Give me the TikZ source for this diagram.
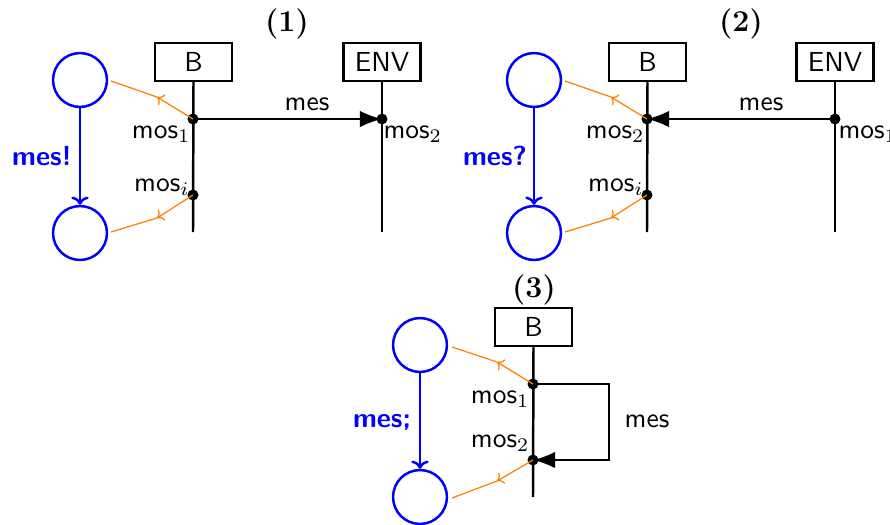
\documentclass[tikz,border=0pt]{standalone}
\usetikzlibrary{arrows.meta}
\begin{document}
\begin{tikzpicture}[x=0.3636pt,y=-0.3636pt, font=\sffamily,
  box/.style={draw, line width=0.9pt, minimum width=28pt, minimum height=13.8pt, inner sep=2pt},
  state/.style={draw=blue, circle, line width=0.9pt, minimum size=19.6pt, inner sep=0pt},
  ev/.style={circle, fill, inner sep=0pt, minimum size=4pt},
  life/.style={line width=0.9pt},
  msg/.style={line width=0.9pt, -{Latex[length=8pt,width=6pt]}},
  trans/.style={blue, line width=0.9pt, -{To[length=3pt]}},
  link/.style={orange, line width=0.45pt},
  linkarr/.style={orange, line width=0.45pt, -{To[length=2.2pt]}},
  lbl/.style={inner sep=0pt},
  ttl/.style={font=\fontsize{11}{13}\selectfont\rmfamily\bfseries, inner sep=0pt},
  act/.style={font=\sffamily\bfseries, text=blue, inner sep=0pt}
]
\useasboundingbox (0,0) rectangle (890,524);

% ---------- Panel 1 ----------
\node[ttl, anchor=base] (t1) at (287,31) {(1)};
\node[box] (B1) at (193.5,62) {B};
\node[box] (E1) at (382,62) {ENV};
\coordinate (B1e) at (193,232);
\coordinate (E1e) at (382,232);
\draw[life] (B1.south) -- (B1e);
\draw[life] (E1.south) -- (E1e);
\node[ev] (m11) at (193,119) {};
\node[ev] (m1i) at (193,195) {};
\node[ev] (m12) at (382,119) {};
\draw[msg] (m11.center) -- (m12.center);
\node[lbl, anchor=base] (mes1) at (307,110) {mes};
\node[lbl, anchor=base east] (l11) at (191,138) {mos$_1$};
\node[lbl, anchor=base east] (l1i) at (190,191) {mos$_i$};
\node[lbl, anchor=base west] (l12) at (383,138) {mos$_2$};
\node[state] (s11) at (80,80) {};
\node[state] (s12) at (80,233) {};
\draw[trans] (s11) -- (s12);
\node[act, anchor=base] (a1) at (42,165) {mes!};
\coordinate (k11) at (157,97);
\coordinate (e11) at (111,81);
\coordinate (k12) at (157,218);
\coordinate (e12) at (111,232);
\draw[linkarr] (m11.center) -- (k11);
\draw[link] (k11) -- (e11);
\draw[linkarr] (m1i.center) -- (k12);
\draw[link] (k12) -- (e12);

% ---------- Panel 2 ----------
\node[ttl, anchor=base] (t2) at (741,31) {(2)};
\node[box] (B2) at (647.5,62) {B};
\node[box] (E2) at (835,62) {ENV};
\coordinate (B2e) at (647,232);
\coordinate (E2e) at (835,232);
\draw[life] (B2.south) -- (B2e);
\draw[life] (E2.south) -- (E2e);
\node[ev] (m22) at (647,119) {};
\node[ev] (m2i) at (647,195) {};
\node[ev] (m21) at (835,119) {};
\draw[msg] (m21.center) -- (m22.center);
\node[lbl, anchor=base] (mes2) at (761,110) {mes};
\node[lbl, anchor=base east] (l22) at (645,138) {mos$_2$};
\node[lbl, anchor=base east] (l2i) at (644,191) {mos$_i$};
\node[lbl, anchor=base west] (l21) at (838,138) {mos$_1$};
\node[state] (s21) at (534,80) {};
\node[state] (s22) at (534,233) {};
\draw[trans] (s21) -- (s22);
\node[act, anchor=base] (a2) at (495,165) {mes?};
\coordinate (k21) at (611,97);
\coordinate (e21) at (565,81);
\coordinate (k22) at (611,218);
\coordinate (e22) at (565,232);
\draw[linkarr] (m22.center) -- (k21);
\draw[link] (k21) -- (e21);
\draw[linkarr] (m2i.center) -- (k22);
\draw[link] (k22) -- (e22);

% ---------- Panel 3 ----------
\node[ttl, anchor=base] (t3) at (534,297) {(3)};
\node[box] (B3) at (533.5,327) {B};
\coordinate (B3e) at (533,497);
\draw[life] (B3.south) -- (B3e);
\node[ev] (m31) at (533,384) {};
\node[ev] (m32) at (533,460) {};
\coordinate (loop) at (609,422);
\draw[msg] (m31.center) -| (loop) |- (m32.center);
\node[lbl, anchor=base] (mes3) at (647,427) {mes};
\node[lbl, anchor=base east] (l31) at (530,403) {mos$_1$};
\node[lbl, anchor=base east] (l32) at (530,447) {mos$_2$};
\node[state] (s31) at (420,345) {};
\node[state] (s32) at (420,497) {};
\draw[trans] (s31) -- (s32);
\node[act, anchor=base] (a3) at (382,427) {mes;};
\coordinate (k31) at (497,362);
\coordinate (e31) at (452,347);
\coordinate (k32) at (497,481);
\coordinate (e32) at (452,498);
\draw[linkarr] (m31.center) -- (k31);
\draw[link] (k31) -- (e31);
\draw[linkarr] (m32.center) -- (k32);
\draw[link] (k32) -- (e32);
\end{tikzpicture}
\end{document}
